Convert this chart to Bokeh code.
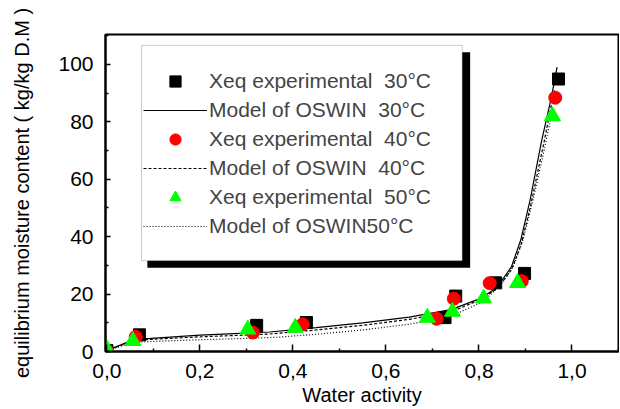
from bokeh.plotting import figure
from bokeh.models import (Range1d, CustomJSTickFormatter, FixedTicker, Legend,
                          LegendItem, BoxAnnotation)
from bokeh.embed import file_html
from bokeh.resources import INLINE

# ---------------- data ----------------
aw30 = [0.0, 0.070, 0.322, 0.429, 0.727, 0.750, 0.836, 0.898, 0.971]
xeq30 = [0.3, 5.8, 9.1, 10.1, 11.8, 19.3, 23.9, 27.2, 94.9]

aw40 = [0.0, 0.062, 0.314, 0.421, 0.709, 0.746, 0.823, 0.892, 0.964]
xeq40 = [0.3, 5.1, 6.6, 9.5, 11.4, 18.4, 23.8, 24.5, 88.4]

aw50 = [0.0, 0.056, 0.303, 0.405, 0.689, 0.743, 0.810, 0.883, 0.958]
xeq50 = [0.8, 3.7, 7.7, 8.3, 11.8, 13.9, 18.5, 23.9, 82.0]

m30_aw = [0.0, 0.01, 0.05, 0.08, 0.2, 0.31, 0.35, 0.45, 0.55, 0.65, 0.74,
          0.805, 0.84, 0.87, 0.89, 0.91, 0.935, 0.955, 0.968]
m30_x = [0.0, 1.0, 3.6, 4.4, 5.7, 6.5, 6.8, 8.3, 10.0, 12.0, 14.6,
         18.6, 22.5, 29.6, 38.9, 52.8, 73.6, 88.0, 99.0]

m40_aw = [0.0, 0.01, 0.05, 0.08, 0.2, 0.31, 0.35, 0.45, 0.55, 0.65, 0.74,
          0.805, 0.84, 0.87, 0.89, 0.91, 0.94, 0.962]
m40_x = [0.0, 0.9, 3.3, 4.1, 5.1, 5.8, 6.1, 7.5, 9.1, 11.2, 13.8,
         18.2, 22.0, 28.5, 37.0, 50.0, 73.0, 91.0]

m50_aw = [0.0, 0.01, 0.05, 0.08, 0.2, 0.31, 0.37, 0.45, 0.55, 0.65, 0.74,
          0.81, 0.85, 0.875, 0.895, 0.915, 0.94, 0.958]
m50_x = [0.0, 0.8, 2.9, 3.4, 4.1, 4.6, 5.0, 6.0, 7.5, 9.5, 12.3,
         17.5, 23.8, 30.0, 39.0, 52.0, 70.0, 84.0]

x_ticks = [0.0, 0.2, 0.4, 0.6, 0.8, 1.0]
y_ticks = [0, 20, 40, 60, 80, 100]

labels = ["Xeq experimental  30\u00b0C", "Model of OSWIN  30\u00b0C",
          "Xeq experimental  40\u00b0C", "Model of OSWIN  40\u00b0C",
          "Xeq experimental  50\u00b0C", "Model of OSWIN50\u00b0C"]

FONT = "Liberation Sans"

p = figure(width=619, height=408, x_range=Range1d(-0.003, 1.10),
           y_range=Range1d(0, 110.4), output_backend="svg",
           toolbar_location=None, min_border_left=105, min_border_right=1,
           min_border_top=34, min_border_bottom=56)
p.xgrid.visible = False
p.ygrid.visible = False
p.outline_line_color = "black"
p.outline_line_width = 2
p.background_fill_color = "white"
p.border_fill_color = "white"

# legend frame with shadow (placed in data space)
shadow = BoxAnnotation(left=0.087, right=0.781, bottom=29.2, top=104.2,
                       fill_color="black", fill_alpha=1.0, line_alpha=0)
box = BoxAnnotation(left=0.0744, right=0.764, bottom=31.6, top=106.6,
                    fill_color="white", fill_alpha=1.0,
                    line_color="#555555", line_width=1)
p.add_layout(shadow)
p.add_layout(box)

r_m30 = p.line(m30_aw, m30_x, line_color="black", line_width=1.2)
r_m40 = p.line(m40_aw, m40_x, line_color="black", line_width=1.2,
               line_dash="3 2")
r_m50 = p.line(m50_aw, m50_x, line_color="black", line_width=1.2,
               line_dash="1 2")

r_30 = p.scatter(aw30, xeq30, marker="square", size=12, color="black")
r_40 = p.scatter(aw40, xeq40, marker="circle", size=13, color="#ff0000")
r_50 = p.scatter(aw50, xeq50, marker="triangle", size=16, color="#00ff00")

legend = Legend(items=[
    LegendItem(label=labels[0], renderers=[r_30]),
    LegendItem(label=labels[1], renderers=[r_m30]),
    LegendItem(label=labels[2], renderers=[r_40]),
    LegendItem(label=labels[3], renderers=[r_m40]),
    LegendItem(label=labels[4], renderers=[r_50]),
    LegendItem(label=labels[5], renderers=[r_m50]),
], location=(36, 109), padding=2, spacing=1, glyph_width=64,
    glyph_height=28, label_height=20, label_standoff=2,
    label_text_font=FONT, label_text_font_size="21px",
    border_line_alpha=0, background_fill_alpha=0, margin=0)
p.add_layout(legend)

# axes
for ax in (p.xaxis[0], p.yaxis[0]):
    ax.axis_line_width = 2
    ax.axis_line_color = "black"
    ax.major_tick_line_width = 1.5
    ax.minor_tick_line_width = 1.5
    ax.major_tick_out = 0
    ax.minor_tick_out = 0
    ax.minor_tick_in = 3
    ax.major_label_text_font = FONT
    ax.major_label_text_font_size = "21px"
    ax.major_label_text_color = "black"
    ax.axis_label_text_font = FONT
    ax.axis_label_text_font_style = "normal"
    ax.axis_label_text_font_size = "20px"
    ax.axis_label_text_color = "black"

p.xaxis.ticker = FixedTicker(ticks=x_ticks,
                             minor_ticks=[0.1, 0.3, 0.5, 0.7, 0.9, 1.1])
p.xaxis.formatter = CustomJSTickFormatter(
    code="return tick.toFixed(1).replace('.', ',');")
p.xaxis.major_tick_in = 7
p.xaxis.major_label_standoff = 12
p.xaxis.axis_label = "Water activity"
p.xaxis.axis_label_standoff = 3

p.yaxis.ticker = FixedTicker(ticks=y_ticks,
                             minor_ticks=[10, 30, 50, 70, 90, 110])
p.yaxis.major_tick_in = 5
p.yaxis.major_label_standoff = 12
p.yaxis.axis_label = "equilibrium moisture content ( kg/kg D.M )"
p.yaxis.axis_label_standoff = 22

open("out.html", "w").write(file_html(p, INLINE))
